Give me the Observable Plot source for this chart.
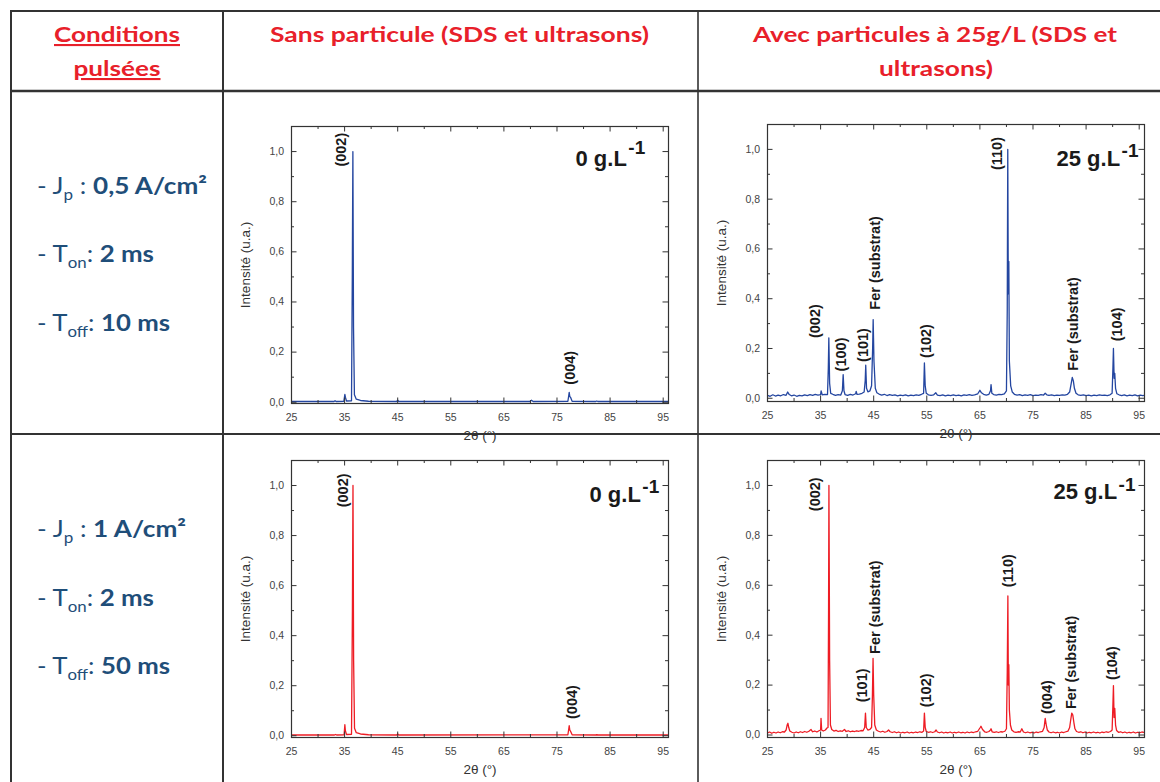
<!DOCTYPE html>
<html><head><meta charset="utf-8">
<script src="https://cdn.jsdelivr.net/npm/d3@7"></script>
<script src="https://cdn.jsdelivr.net/npm/@observablehq/plot@0.6"></script>
<style>
html,body{margin:0;padding:0;background:#fff;}
body{width:1160px;height:782px;overflow:hidden;position:relative;}
.chart{position:absolute;}
#table{position:absolute;left:0;top:0;pointer-events:none;}
</style></head><body>
<div id="c1" class="chart"></div>
<div id="c2" class="chart"></div>
<div id="c3" class="chart"></div>
<div id="c4" class="chart"></div>
<svg id="table" width="1160" height="782" font-family="Lato, 'Open Sans', sans-serif">
  <g stroke="#333" fill="none">
    <line x1="10" y1="11" x2="1160" y2="11" stroke-width="2"/>
    <line x1="11" y1="10" x2="11" y2="782" stroke-width="2"/>
    <line x1="10" y1="91" x2="1160" y2="91" stroke-width="2.5"/>
    <line x1="10" y1="434" x2="1160" y2="434" stroke-width="2"/>
    <line x1="223" y1="10" x2="223" y2="782" stroke-width="2"/>
    <line x1="698" y1="10" x2="698" y2="782" stroke-width="1.6"/>
  </g>
  <g fill="#e8202a" font-weight="700" font-size="21" text-anchor="middle">
    <text x="117" y="42" textLength="126" lengthAdjust="spacingAndGlyphs" text-decoration="underline">Conditions</text>
    <text x="117" y="76" textLength="87" lengthAdjust="spacingAndGlyphs" text-decoration="underline">pulsées</text>
    <text x="459.5" y="42" textLength="379" lengthAdjust="spacingAndGlyphs">Sans particule (SDS et ultrasons)</text>
    <text x="935" y="42" textLength="364" lengthAdjust="spacingAndGlyphs">Avec particules à 25g/L (SDS et</text>
    <text x="936" y="76" textLength="114" lengthAdjust="spacingAndGlyphs">ultrasons)</text>
  </g>
  <g fill="#1f4e79" font-size="23">
    <text x="37" y="194" textLength="170" lengthAdjust="spacingAndGlyphs">- J<tspan font-size="15" dy="6">p</tspan><tspan dy="-6"> : </tspan><tspan font-weight="700">0,5 A/cm²</tspan></text>
    <text x="37" y="262" textLength="117" lengthAdjust="spacingAndGlyphs">- T<tspan font-size="15" dy="6">on</tspan><tspan dy="-6">: </tspan><tspan font-weight="700">2 ms</tspan></text>
    <text x="37" y="331" textLength="133" lengthAdjust="spacingAndGlyphs">- T<tspan font-size="15" dy="6">off</tspan><tspan dy="-6">: </tspan><tspan font-weight="700">10 ms</tspan></text>
    <text x="37" y="537" textLength="149" lengthAdjust="spacingAndGlyphs">- J<tspan font-size="15" dy="6">p</tspan><tspan dy="-6"> : </tspan><tspan font-weight="700">1 A/cm²</tspan></text>
    <text x="37" y="606" textLength="117" lengthAdjust="spacingAndGlyphs">- T<tspan font-size="15" dy="6">on</tspan><tspan dy="-6">: </tspan><tspan font-weight="700">2 ms</tspan></text>
    <text x="37" y="674" textLength="133" lengthAdjust="spacingAndGlyphs">- T<tspan font-size="15" dy="6">off</tspan><tspan dy="-6">: </tspan><tspan font-weight="700">50 ms</tspan></text>
  </g>
</svg>
<script>
// ---------- data ----------
const xMajor = [25, 35, 45, 55, 65, 75, 85, 95];
const xMinor = [30, 40, 50, 60, 70, 80, 90];
const yMajor = [0, 0.2, 0.4, 0.6, 0.8, 1.0];
const yMinor = [0.1, 0.3, 0.5, 0.7, 0.9];
const xTitle = "2θ (°)";
const yTitle = "Intensité (u.a.)";

// Row 1 (Jp 0,5 A/cm²), 0 g/L — [2θ, intensity]
const blue0 = [[25,0.003],[33.0,0.003],[33.2,0.006],[33.4,0.003],[34.85,0.004],[35.05,0.031],[35.15,0.02],[35.35,0.005],[36.3,0.006],[36.45,0.5],[36.56,1.0],[36.68,0.3],[36.85,0.03],[37.2,0.012],[38.0,0.007],[39.5,0.004],[44.8,0.003],[45.0,0.008],[45.2,0.003],[69.9,0.003],[70.2,0.008],[70.5,0.003],[77.05,0.004],[77.2,0.025],[77.3,0.039],[77.42,0.022],[77.55,0.02],[77.85,0.004],[82.3,0.003],[82.5,0.005],[82.7,0.003],[96,0.003]];

// Row 1, 25 g/L
const blue25 = [[25,0.012],[25.5,0.008],[26,0.014],[26.5,0.009],[27,0.013],[27.5,0.010],[28,0.015],[28.5,0.012],[28.8,0.025],[29.1,0.015],[29.5,0.010],[30,0.013],[30.5,0.008],[31,0.012],[31.5,0.010],[32,0.014],[32.5,0.011],[33,0.015],[33.5,0.012],[34,0.016],[34.5,0.013],[35.0,0.015],[35.1,0.03],[35.3,0.014],[35.8,0.016],[36.3,0.015],[36.45,0.12],[36.55,0.243],[36.7,0.06],[36.9,0.02],[37.3,0.016],[37.8,0.012],[38.3,0.015],[38.8,0.013],[39.1,0.03],[39.25,0.095],[39.4,0.03],[39.6,0.015],[40.1,0.012],[40.6,0.016],[41.1,0.013],[41.6,0.018],[41.7,0.028],[41.85,0.016],[42.3,0.017],[42.8,0.02],[43.2,0.025],[43.4,0.07],[43.5,0.133],[43.65,0.04],[43.9,0.026],[44.3,0.03],[44.6,0.05],[44.8,0.2],[44.9,0.316],[45.05,0.15],[45.3,0.04],[45.6,0.022],[46,0.017],[46.5,0.013],[47,0.016],[47.5,0.011],[48,0.015],[48.5,0.012],[49,0.014],[49.5,0.010],[50,0.013],[50.5,0.011],[51,0.014],[51.5,0.010],[52,0.013],[52.5,0.011],[53,0.014],[53.5,0.012],[54,0.016],[54.4,0.02],[54.55,0.142],[54.7,0.05],[54.9,0.02],[55.3,0.014],[55.8,0.012],[56.3,0.014],[56.7,0.022],[57,0.013],[57.5,0.011],[58,0.014],[58.5,0.010],[59,0.013],[59.5,0.011],[60,0.014],[60.5,0.011],[61,0.013],[61.5,0.010],[62,0.014],[62.5,0.012],[63,0.015],[63.5,0.012],[64,0.014],[64.6,0.018],[65.0,0.032],[65.3,0.022],[65.7,0.016],[66.2,0.013],[66.7,0.016],[67.0,0.03],[67.1,0.055],[67.25,0.02],[67.6,0.015],[68.1,0.013],[68.6,0.016],[69.1,0.015],[69.6,0.018],[70.0,0.03],[70.15,0.35],[70.25,1.0],[70.35,0.42],[70.45,0.55],[70.55,0.15],[70.8,0.05],[71.1,0.025],[71.5,0.016],[72,0.013],[72.5,0.015],[73,0.011],[73.5,0.014],[74,0.012],[74.5,0.015],[75,0.011],[75.5,0.013],[76,0.012],[76.5,0.015],[77,0.013],[77.3,0.02],[77.6,0.014],[78,0.012],[78.5,0.014],[79,0.011],[79.5,0.013],[80,0.012],[80.5,0.014],[81,0.013],[81.5,0.016],[81.9,0.025],[82.2,0.06],[82.4,0.084],[82.6,0.07],[82.8,0.04],[83.1,0.02],[83.5,0.014],[84,0.012],[84.5,0.014],[85,0.011],[85.5,0.013],[86,0.010],[86.5,0.013],[87,0.011],[87.5,0.014],[88,0.012],[88.5,0.013],[89,0.011],[89.5,0.014],[89.9,0.02],[90.05,0.12],[90.15,0.2],[90.28,0.08],[90.4,0.1],[90.55,0.04],[90.8,0.018],[91.2,0.014],[91.7,0.011],[92.2,0.014],[92.7,0.010],[93.2,0.013],[93.7,0.011],[94.2,0.014],[94.7,0.010],[95.2,0.013],[95.7,0.011],[96,0.012]];

// Row 2 (Jp 1 A/cm²), 0 g/L
const red0 = [[25,0.003],[33.1,0.003],[33.3,0.005],[33.5,0.003],[34.9,0.004],[35.05,0.044],[35.15,0.02],[35.35,0.005],[36.3,0.006],[36.47,0.5],[36.58,1.0],[36.7,0.3],[36.87,0.03],[37.2,0.012],[38.0,0.007],[39.5,0.004],[44.8,0.003],[45.0,0.007],[45.2,0.003],[77.05,0.004],[77.2,0.025],[77.3,0.04],[77.42,0.022],[77.55,0.018],[77.85,0.004],[82.3,0.003],[82.5,0.004],[82.7,0.003],[96,0.003]];

// Row 2, 25 g/L
const red25 = [[25,0.008],[25.4,0.012],[25.8,0.007],[26.2,0.011],[26.6,0.008],[27,0.012],[27.4,0.009],[27.8,0.013],[28.2,0.012],[28.5,0.02],[28.7,0.04],[28.85,0.047],[29.0,0.03],[29.2,0.016],[29.6,0.011],[30,0.008],[30.4,0.012],[30.8,0.009],[31.2,0.013],[31.6,0.010],[32,0.014],[32.4,0.011],[32.8,0.015],[33.2,0.022],[33.5,0.013],[33.9,0.016],[34.3,0.012],[34.7,0.017],[35.0,0.02],[35.08,0.067],[35.2,0.02],[35.5,0.016],[35.9,0.02],[36.2,0.028],[36.4,0.03],[36.5,0.5],[36.57,1.0],[36.7,0.3],[36.85,0.04],[37.1,0.022],[37.5,0.016],[37.9,0.019],[38.3,0.014],[38.7,0.017],[39.1,0.015],[39.5,0.022],[39.8,0.014],[40.2,0.017],[40.6,0.013],[41,0.016],[41.4,0.014],[41.8,0.017],[42.2,0.015],[42.6,0.018],[43,0.017],[43.3,0.03],[43.45,0.088],[43.6,0.03],[43.9,0.02],[44.3,0.023],[44.6,0.03],[44.75,0.15],[44.88,0.307],[45.0,0.16],[45.2,0.04],[45.5,0.02],[45.9,0.015],[46.3,0.012],[46.7,0.015],[47.1,0.011],[47.5,0.014],[47.8,0.02],[48.1,0.013],[48.5,0.010],[48.9,0.013],[49.3,0.009],[49.7,0.012],[50.1,0.008],[50.5,0.011],[50.9,0.009],[51.3,0.012],[51.7,0.008],[52.1,0.011],[52.5,0.009],[52.9,0.012],[53.3,0.010],[53.7,0.013],[54.1,0.011],[54.4,0.016],[54.55,0.088],[54.7,0.03],[54.9,0.014],[55.3,0.011],[55.7,0.013],[56.1,0.010],[56.5,0.013],[56.75,0.02],[57,0.012],[57.4,0.009],[57.8,0.012],[58.2,0.008],[58.6,0.011],[59,0.009],[59.4,0.012],[59.8,0.008],[60.2,0.011],[60.6,0.009],[61,0.012],[61.4,0.009],[61.8,0.011],[62.2,0.008],[62.6,0.012],[63,0.009],[63.4,0.012],[63.8,0.010],[64.2,0.013],[64.6,0.015],[65.0,0.028],[65.2,0.035],[65.5,0.022],[65.9,0.013],[66.3,0.011],[66.7,0.014],[67.0,0.02],[67.1,0.025],[67.3,0.013],[67.7,0.011],[68.1,0.013],[68.5,0.010],[68.9,0.013],[69.3,0.012],[69.7,0.015],[70.0,0.025],[70.15,0.25],[70.27,0.557],[70.36,0.2],[70.45,0.282],[70.55,0.1],[70.75,0.04],[71.0,0.02],[71.4,0.013],[71.8,0.011],[72.2,0.013],[72.6,0.012],[72.9,0.025],[73.2,0.012],[73.6,0.009],[74,0.012],[74.4,0.009],[74.8,0.011],[75.2,0.008],[75.6,0.012],[76,0.010],[76.4,0.013],[76.8,0.015],[77.1,0.03],[77.3,0.067],[77.5,0.04],[77.7,0.02],[78,0.012],[78.4,0.009],[78.8,0.012],[79.2,0.009],[79.6,0.011],[80,0.008],[80.4,0.012],[80.8,0.010],[81.2,0.013],[81.6,0.016],[81.9,0.03],[82.1,0.06],[82.3,0.088],[82.5,0.08],[82.7,0.05],[82.9,0.025],[83.2,0.014],[83.6,0.011],[84,0.013],[84.4,0.009],[84.8,0.012],[85.2,0.008],[85.6,0.011],[86,0.009],[86.4,0.012],[86.8,0.009],[87.2,0.011],[87.6,0.008],[88,0.012],[88.4,0.010],[88.8,0.013],[89.2,0.011],[89.6,0.014],[89.9,0.02],[90.05,0.12],[90.15,0.198],[90.27,0.07],[90.4,0.107],[90.55,0.04],[90.75,0.018],[91.1,0.011],[91.5,0.013],[91.9,0.009],[92.3,0.012],[92.7,0.008],[93.1,0.011],[93.5,0.009],[93.9,0.012],[94.3,0.008],[94.7,0.011],[95.1,0.009],[95.5,0.012],[96,0.010]];

// peak annotations: x = 2θ at label centre, y = intensity where the label starts
const labels1 = [{x:34.45,y:0.94,t:"(002)"},{x:77.6,y:0.07,t:"(004)"}];
const labels2 = [{x:34.1,y:0.242,t:"(002)"},{x:38.96,y:0.108,t:"(100)"},{x:43.1,y:0.146,t:"(101)"},{x:45.25,y:0.356,t:"Fer (substrat)"},{x:54.93,y:0.162,t:"(102)"},{x:68.2,y:0.917,t:"(110)"},{x:82.66,y:0.111,t:"Fer (substrat)"},{x:90.85,y:0.229,t:"(104)"}];
const labels3 = [{x:34.74,y:0.913,t:"(002)"},{x:77.8,y:0.067,t:"(004)"}];
const labels4 = [{x:33.93,y:0.897,t:"(002)"},{x:42.8,y:0.131,t:"(101)"},{x:45.25,y:0.325,t:"Fer (substrat)"},{x:54.98,y:0.111,t:"(102)"},{x:70.4,y:0.592,t:"(110)"},{x:77.64,y:0.084,t:"(004)"},{x:82.3,y:0.104,t:"Fer (substrat)"},{x:89.9,y:0.22,t:"(104)"}];

const concLabels = ["0 g.L", "25 g.L", "0 g.L", "25 g.L"];
const concExp = "-1";

// ---------- drawing ----------
const FW = 377, FH = 277, ML = 60, MR = 12, MT = 12, MB = 44;
const font = "'Liberation Sans', Arial, sans-serif";
const fmt = d => d.toFixed(1).replace(".", ",");
const CONC_SIZE = 22, EXP_SIZE = 19;

// width of the concentration text, so the exponent starts right after it
const ctx = document.createElement("canvas").getContext("2d");
function textWidth(s, size) {
  ctx.font = `bold ${size}px 'Liberation Sans', Arial, sans-serif`;
  return ctx.measureText(s).width;
}

function makeChart(cfg) {
  const tk = {stroke: "#333", strokeWidth: 1};
  const expDx = cfg.cDx + textWidth(cfg.conc, CONC_SIZE) + 1.5;
  return Plot.plot({
    width: ML + FW + MR, height: MT + FH + MB,
    marginLeft: ML, marginRight: MR, marginTop: MT, marginBottom: MB,
    style: {fontFamily: font, fontSize: "10.5px", color: "#444", background: "transparent", overflow: "visible"},
    x: {domain: [25, 96], axis: null},
    y: {domain: cfg.yDomain, axis: null},
    marks: [
      Plot.line(cfg.data, {x: d => d[0], y: d => d[1], stroke: cfg.color, strokeWidth: 1.3, clip: true}),
      Plot.tickX(xMajor, {x: d => d, insetTop: FH - 5.5, ...tk}),
      Plot.tickX(xMajor, {x: d => d, insetBottom: FH - 5.5, ...tk}),
      Plot.tickX(xMinor, {x: d => d, insetTop: FH - 3, ...tk}),
      Plot.tickX(xMinor, {x: d => d, insetBottom: FH - 3, ...tk}),
      Plot.tickY(yMajor, {y: d => d, insetRight: FW - 5.5, ...tk}),
      Plot.tickY(yMajor, {y: d => d, insetLeft: FW - 5.5, ...tk}),
      Plot.tickY(yMinor, {y: d => d, insetRight: FW - 3, ...tk}),
      Plot.tickY(yMinor, {y: d => d, insetLeft: FW - 3, ...tk}),
      Plot.axisX(xMajor, {tickSize: 0, tickPadding: 10, label: null}),
      Plot.axisY(yMajor, {tickSize: 0, tickPadding: 7.5, label: null, tickFormat: fmt}),
      Plot.frame({stroke: "#333", strokeWidth: 1.2}),
      Plot.text(cfg.labels, {x: "x", y: "y", text: "t", rotate: -90, textAnchor: "start", lineAnchor: "middle", fontWeight: "bold", fontSize: 14.5, fill: "#1a1a1a"}),
      Plot.text([cfg.conc], {text: d => d, frameAnchor: "top-right", dx: cfg.cDx, dy: cfg.cDy, textAnchor: "start", lineAnchor: "bottom", fontSize: CONC_SIZE, fontWeight: "bold", fill: "#1a1a1a"}),
      Plot.text([concExp], {text: d => d, frameAnchor: "top-right", dx: expDx, dy: cfg.eDy, textAnchor: "start", lineAnchor: "bottom", fontSize: EXP_SIZE, fontWeight: "bold", fill: "#1a1a1a"}),
      Plot.text([yTitle], {text: d => d, frameAnchor: "left", dx: -46, rotate: -90, textAnchor: "middle", lineAnchor: "middle", fontSize: 13.5, fill: "#333"}),
      Plot.text([xTitle], {text: d => d, frameAnchor: "bottom", dy: 32, textAnchor: "middle", lineAnchor: "middle", fontSize: 13.5, fill: "#333"})
    ]
  });
}

const cfgs = [
  {id: "c1", fx: 291, fy: 126, data: blue0,  color: "#2446a0", yDomain: [-0.005, 1.1], labels: labels1, conc: concLabels[0], cDx: -93, cDy: 39, eDy: 27.5},
  {id: "c2", fx: 767, fy: 124, data: blue25, color: "#2446a0", yDomain: [-0.013, 1.1], labels: labels2, conc: concLabels[1], cDx: -88, cDy: 41, eDy: 32.5},
  {id: "c3", fx: 291, fy: 460, data: red0,   color: "#ee1c24", yDomain: [-0.007, 1.1], labels: labels3, conc: concLabels[2], cDx: -79, cDy: 41.5, eDy: 32.5},
  {id: "c4", fx: 767, fy: 460, data: red25,  color: "#ee1c24", yDomain: [-0.010, 1.1], labels: labels4, conc: concLabels[3], cDx: -91, cDy: 38.5, eDy: 30}
];
for (const c of cfgs) {
  const el = document.getElementById(c.id);
  el.style.left = (c.fx - ML) + "px";
  el.style.top = (c.fy - MT) + "px";
  el.appendChild(makeChart(c));
}
</script>
</body></html>
